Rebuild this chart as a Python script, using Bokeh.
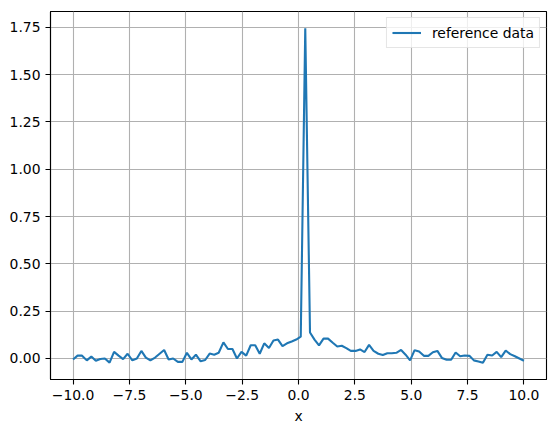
from bokeh.plotting import figure
from bokeh.models import Range1d, FixedTicker, Legend, LegendItem
from bokeh.embed import file_html
from bokeh.resources import INLINE

x_vals = [-10.00, -9.80, -9.60, -9.39, -9.19, -8.99, -8.79, -8.59, -8.38, -8.18,
          -7.98, -7.78, -7.58, -7.37, -7.17, -6.97, -6.77, -6.57, -6.36, -6.16,
          -5.96, -5.76, -5.56, -5.35, -5.15, -4.95, -4.75, -4.55, -4.34, -4.14,
          -3.94, -3.74, -3.54, -3.33, -3.13, -2.93, -2.73, -2.53, -2.32, -2.12,
          -1.92, -1.72, -1.52, -1.31, -1.11, -0.91, -0.71, -0.51, -0.30, -0.10,
          0.10, 0.30, 0.51, 0.71, 0.91, 1.11, 1.31, 1.52, 1.72, 1.92,
          2.12, 2.32, 2.53, 2.73, 2.93, 3.13, 3.33, 3.54, 3.74, 3.94,
          4.14, 4.34, 4.55, 4.75, 4.95, 5.15, 5.35, 5.56, 5.76, 5.96,
          6.16, 6.36, 6.57, 6.77, 6.97, 7.17, 7.37, 7.58, 7.78, 7.98,
          8.18, 8.38, 8.59, 8.79, 8.99, 9.19, 9.39, 9.60, 9.80, 10.00]

y_vals = [-0.005, 0.015, 0.015, -0.010, 0.010, -0.012, -0.003, 0.000, -0.022, 0.035,
          0.015, -0.003, 0.025, -0.010, 0.000, 0.040, 0.005, -0.010, 0.005, 0.025,
          0.045, -0.005, 0.000, -0.018, -0.018, 0.030, -0.005, 0.020, -0.015, -0.008,
          0.026, 0.020, 0.030, 0.085, 0.050, 0.050, 0.000, 0.035, 0.015, 0.070,
          0.070, 0.025, 0.080, 0.055, 0.095, 0.100, 0.065, 0.080, 0.090, 0.100,
          0.115, 1.745, 0.137, 0.100, 0.069, 0.105, 0.105, 0.083, 0.063, 0.067,
          0.055, 0.040, 0.040, 0.048, 0.034, 0.072, 0.040, 0.025, 0.018, 0.028,
          0.028, 0.030, 0.045, 0.020, -0.010, 0.044, 0.037, 0.014, 0.014, 0.033,
          0.040, 0.003, -0.007, -0.007, 0.032, 0.012, 0.016, 0.014, -0.010, -0.016,
          -0.023, 0.020, 0.016, 0.035, 0.007, 0.042, 0.023, 0.012, 0.000, -0.012]

x_ticks = [-10, -7.5, -5, -2.5, 0, 2.5, 5, 7.5, 10]
x_tick_labels = ["\u221210.0", "\u22127.5", "\u22125.0", "\u22122.5", "0.0", "2.5", "5.0", "7.5", "10.0"]
y_ticks = [0, 0.25, 0.5, 0.75, 1.0, 1.25, 1.5, 1.75]
y_tick_labels = ["0.00", "0.25", "0.50", "0.75", "1.00", "1.25", "1.50", "1.75"]
series_name = "reference data"
x_label = "x"

FONT = "DejaVu Sans"
FS = "13.9px"

p = figure(frame_width=496, frame_height=368,
           x_range=Range1d(-11, 11), y_range=Range1d(-0.111, 1.833),
           output_backend="svg", toolbar_location=None,
           min_border_left=50, min_border_top=11, min_border_right=2, min_border_bottom=45)
p.background_fill_color = "white"
p.border_fill_color = "white"
p.outline_line_color = "black"
p.outline_line_width = 1.1

line = p.line(x_vals, y_vals, line_color="#1f77b4", line_width=2.1)

for ax in (p.xaxis[0], p.yaxis[0]):
    ax.major_tick_in = 0
    ax.major_tick_out = 5
    ax.minor_tick_line_color = None
    ax.major_tick_line_color = "black"
    ax.major_tick_line_width = 1.1
    ax.axis_line_color = "black"
    ax.axis_line_width = 1.1
    ax.major_label_text_font = FONT
    ax.major_label_text_font_size = FS
    ax.major_label_text_color = "black"
    ax.major_label_standoff = 5

p.xaxis[0].ticker = FixedTicker(ticks=x_ticks)
p.xaxis[0].major_label_overrides = {(int(t) if float(t).is_integer() else t): l for t, l in zip(x_ticks, x_tick_labels)}
p.yaxis[0].ticker = FixedTicker(ticks=y_ticks)
p.yaxis[0].major_label_overrides = {(int(t) if float(t).is_integer() else t): l for t, l in zip(y_ticks, y_tick_labels)}

p.xaxis[0].axis_label = x_label
p.xaxis[0].axis_label_text_font = FONT
p.xaxis[0].axis_label_text_font_size = FS
p.xaxis[0].axis_label_text_font_style = "normal"
p.xaxis[0].axis_label_text_color = "black"
p.xaxis[0].axis_label_standoff = 5

p.xgrid[0].ticker = FixedTicker(ticks=x_ticks)
p.ygrid[0].ticker = FixedTicker(ticks=y_ticks)
for g in (p.xgrid[0], p.ygrid[0]):
    g.grid_line_color = "#b0b0b0"
    g.grid_line_width = 1.1
    g.grid_line_alpha = 1.0

legend = Legend(items=[LegendItem(label=series_name, renderers=[line])],
                location="top_right")
legend.margin = 6
legend.padding = 5
legend.spacing = 0
legend.glyph_width = 29
legend.glyph_height = 19
legend.label_height = 19
legend.label_standoff = 11
legend.label_text_font = FONT
legend.label_text_font_size = FS
legend.label_text_color = "black"
legend.border_line_color = "#cccccc"
legend.border_line_width = 1
legend.background_fill_color = "white"
legend.background_fill_alpha = 0.8
p.add_layout(legend)

open("out.html", "w").write(file_html(p, INLINE))
